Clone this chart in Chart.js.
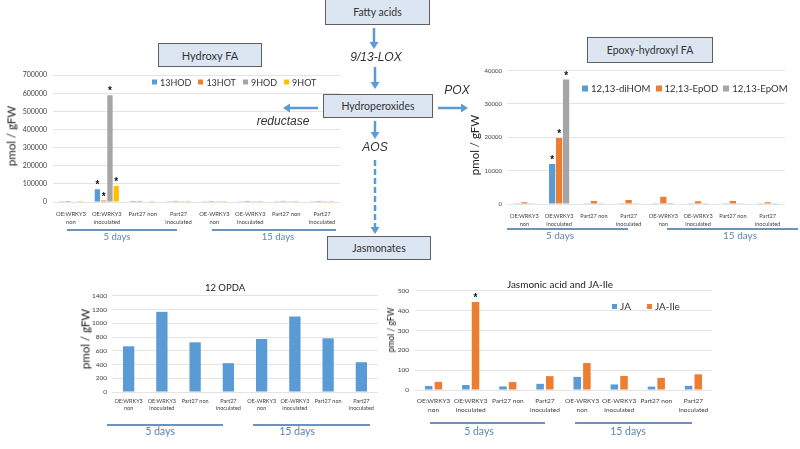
<!DOCTYPE html>
<html><head><meta charset="utf-8">
<script src="https://cdn.jsdelivr.net/npm/chart.js@4.4.1/dist/chart.umd.min.js"></script>
<style>
html,body{margin:0;padding:0;background:#fff;}
#root{position:relative;width:800px;height:449px;overflow:hidden;font-family:Lato,"Liberation Sans",sans-serif;}
canvas{position:absolute;}
.box{position:absolute;background:#dce6f2;border:1px solid #5f5f5f;box-sizing:border-box;display:flex;align-items:center;justify-content:center;color:#333;z-index:3;}
.it{position:absolute;font-family:"Liberation Sans",Arial,sans-serif;font-style:italic;font-size:12px;color:#333;transform:translate(-50%,-50%);white-space:nowrap;z-index:3;}
.yt{position:absolute;transform:translate(-50%,-50%) rotate(-90deg);white-space:nowrap;color:#222;}
.ct{position:absolute;transform:translate(-50%,-50%);white-space:nowrap;color:#222;}
.days{position:absolute;transform:translate(-50%,-50%);color:#5b86b3;white-space:nowrap;}
.dl{position:absolute;height:1.5px;background:#6b93bd;}
.lg{position:absolute;display:flex;align-items:center;white-space:nowrap;color:#333;transform:translateY(-50%);}
.lg i{display:inline-block;margin-right:3px;}
.lg span{display:inline-block;}
svg{position:absolute;left:0;top:0;z-index:2;}
</style>
</head>
<body>
<div id="root">
<canvas id="cA"></canvas>
<canvas id="cB"></canvas>
<canvas id="cC"></canvas>
<canvas id="cD"></canvas>
</div>
<script>
// ---------- data ----------
const categories = [["OE:WRKY3","non"],["OE:WRKY3","inoculated"],"Part27 non",["Part27","inoculated"],["OE-WRKY3","non"],["OE-WRKY3","inoculated"],"Part27 non",["Part27","inoculated"]];

const hydroxyNames = ["13HOD","13HOT","9HOD","9HOT"];
const hod13 = [1500, 70000, 500, 1000, 4000, 2000, 1000, 1500];
const hot13 = [300, 8000, 300, 300, 500, 500, 300, 300];
const hod9  = [2500, 590000, 2500, 3500, 3500, 3500, 800, 2000];
const hot9  = [500, 88000, 500, 500, 500, 500, 500, 500];
const hydroxyStars = [[0,1],[1,1],[2,1],[3,1]];

const epoxyNames = ["12,13-diHOM","12,13-EpOD","12,13-EpOM"];
const diHOM = [50, 12000, 200, 50, 250, 50, 50, 50];
const epOD  = [500, 19800, 900, 1200, 2200, 800, 900, 500];
const epOM  = [50, 37300, 50, 50, 300, 50, 50, 50];
const epoxyStars = [[0,1],[1,1],[2,1]];

const opda = [666, 1168, 724, 420, 772, 1100, 782, 434];

const jaNames = ["JA","JA-Ile"];
const ja    = [20, 25, 18, 31, 66, 28, 17, 21];
const jaIle = [41, 444, 40, 70, 136, 71, 61, 79];
const jaStars = [[1,1]];

const periodLabels = ["5 days","15 days"];

// ---------- colours ----------
const BLUE='#5b9bd5', ORANGE='#ed7d31', GRAY='#a5a5a5', GOLD='#ffc000';

const starPlugin = {
  id:'stars',
  afterDatasetsDraw(chart, args, opts){
    const ctx = chart.ctx;
    ctx.save();
    ctx.fillStyle = '#111';
    ctx.font = 'bold ' + (opts.size||10) + 'px "Liberation Sans"';
    ctx.textAlign = 'center';
    ctx.textBaseline = 'alphabetic';
    (opts.marks||[]).forEach(([d,i])=>{
      const el = chart.getDatasetMeta(d).data[i];
      ctx.fillText('*', el.x, el.y + opts.dy);
    });
    ctx.restore();
  }
};

function barChart(id, box, cfg){
  const padT=8, padR=8;
  const c=document.getElementById(id);
  const w=box.r-box.l+cfg.yW+padR, h=box.b-box.t+padT+cfg.xH;
  c.width=w; c.height=h;
  c.style.left=(box.l-cfg.yW)+'px'; c.style.top=(box.t-padT)+'px';
  c.style.width=w+'px'; c.style.height=h+'px';
  return new Chart(c,{
    type:'bar',
    data:{labels:categories,datasets:cfg.datasets},
    options:{
      responsive:false,animation:false,devicePixelRatio:1,
      layout:{padding:{top:padT,right:padR,left:0,bottom:0}},
      plugins:{legend:{display:false},tooltip:{enabled:false},stars:{marks:cfg.stars||[],dy:cfg.starDy,size:cfg.starSize||10}},
      scales:{
        x:{grid:{display:false,drawTicks:false},border:{display:false},
           ticks:{font:cfg.xFont,color:'#404040',padding:cfg.xPad,maxRotation:0,minRotation:0,autoSkip:false},
           afterFit(s){s.height=cfg.xH;}},
        y:{min:0,max:cfg.max,grid:{color:'#e4e4e4',drawTicks:false},border:{display:false},
           ticks:{stepSize:cfg.step,font:cfg.yFont,color:'#404040',padding:cfg.yPad,callback:v=>String(v)},
           afterFit(s){s.width=cfg.yW;}}
      }
    },
    plugins:[starPlugin]
  });
}
function ds(label,data,color,bp,cp){return {label,data,backgroundColor:color,borderWidth:0,barPercentage:bp,categoryPercentage:cp};}

Chart.defaults.font.family='Lato, "Liberation Sans", sans-serif';

barChart('cA',{l:53,t:73,r:340,b:202},{
  yW:53,xH:30,max:700000,step:100000,
  xFont:{size:5.8,lineHeight:1.4},xPad:8,yFont:{size:7},yPad:6,
  stars:hydroxyStars,starDy:-1,starSize:10,
  datasets:[ds(hydroxyNames[0],hod13,BLUE,0.85,0.7),ds(hydroxyNames[1],hot13,ORANGE,0.85,0.7),ds(hydroxyNames[2],hod9,GRAY,0.85,0.7),ds(hydroxyNames[3],hot9,GOLD,0.85,0.7)]
});
barChart('cB',{l:507,t:70,r:785,b:204},{
  yW:37,xH:30,max:40000,step:10000,
  xFont:{size:5.6,lineHeight:1.4},xPad:8,yFont:{size:6},yPad:5,
  stars:epoxyStars,starDy:-1,starSize:10,
  datasets:[ds(epoxyNames[0],diHOM,BLUE,0.9,0.6),ds(epoxyNames[1],epOD,ORANGE,0.9,0.6),ds(epoxyNames[2],epOM,GRAY,0.9,0.6)]
});
barChart('cC',{l:112,t:295,r:378,b:392},{
  yW:22,xH:28,max:1400,step:200,
  xFont:{size:5.5,lineHeight:1.25},xPad:6,yFont:{size:6.5},yPad:5,
  datasets:[ds('12 OPDA',opda,BLUE,0.34,1)]
});
barChart('cD',{l:415,t:289,r:712,b:390},{
  yW:22,xH:30,max:500,step:50,
  xFont:{size:6.5,lineHeight:1.35},xPad:7,yFont:{size:6.5},yPad:6,
  stars:jaStars,starDy:-1,starSize:10,
  datasets:[ds(jaNames[0],ja,BLUE,0.78,0.52),ds(jaNames[1],jaIle,ORANGE,0.78,0.52)]
});

// ---------- html text / decorations ----------
const root=document.getElementById('root');
function el(cls,txt,css){const d=document.createElement('div');d.className=cls;if(txt!==null)d.textContent=txt;Object.assign(d.style,css);root.appendChild(d);return d;}

// legends
function legend(x,y,items,size,font,gap){
  const d=el('lg',null,{left:x+'px',top:y+'px',fontSize:font+'px'});
  items.forEach(([color,label],k)=>{
    const i=document.createElement('i');
    Object.assign(i.style,{width:size+'px',height:size+'px',background:color,marginLeft:(k?gap:0)+'px'});
    const s=document.createElement('span');s.textContent=label;
    d.appendChild(i);d.appendChild(s);
  });
}
legend(152,82,[[BLUE,hydroxyNames[0]],[ORANGE,hydroxyNames[1]],[GRAY,hydroxyNames[2]],[GOLD,hydroxyNames[3]]],5,9,7);
legend(582,88,[[BLUE,epoxyNames[0]],[ORANGE,epoxyNames[1]],[GRAY,epoxyNames[2]]],6,9.6,5);
legend(612,306,[[BLUE,jaNames[0]],[ORANGE,jaNames[1]]],5,10,16);

// y titles
el('yt','pmol / gFW',{left:'11px',top:'136px',fontSize:'11.5px'});
el('yt','pmol / gFW',{left:'474px',top:'145px',fontSize:'11.5px'});
el('yt','pmol / gFW',{left:'85px',top:'339px',fontSize:'11.5px'});
el('yt','pmol / gFW',{left:'391px',top:'330px',fontSize:'8.5px'});

// chart titles
el('ct','12 OPDA',{left:'225px',top:'287px',fontSize:'9.5px'});
el('ct','Jasmonic acid and JA-Ile',{left:'560px',top:'284px',fontSize:'10px'});

// period lines
function period(x1,x2,ly,tx,ty,label,font){
  el('dl',null,{left:x1+'px',top:ly+'px',width:(x2-x1)+'px'});
  el('days',label,{left:tx+'px',top:ty+'px',fontSize:font+'px'});
}
period(67,177,229,117,236,periodLabels[0],9.5);
period(212,336,229,278,236,periodLabels[1],9.5);
period(507,628,228,560,235,periodLabels[0],10);
period(667,798,228,740,235,periodLabels[1],10);
period(107,223,424,160,431,periodLabels[0],10.5);
period(253,370,424,297,431,periodLabels[1],10.5);
period(430,545,422,479,431,periodLabels[0],10.5);
period(575,692,422,628,431,periodLabels[1],10.5);

// boxes
function box(x1,y1,x2,y2,label,font){return el('box',label,{left:x1+'px',top:y1+'px',width:(x2-x1)+'px',height:(y2-y1)+'px',fontSize:font+'px'});}
box(158,43,262,67,'Hydroxy FA',11);
box(587,37,713,63,'Epoxy-hydroxyl FA',10.5);
box(325,-1,430,25,'Fatty acids',10.5);
box(323,94,433,118,'Hydroperoxides',10.5);
box(327,236,431,260,'Jasmonates',10.5);

// italic enzyme labels
el('it','9/13-LOX',{left:'376px',top:'57px'});
el('it','reductase',{left:'283px',top:'121px'});
el('it','POX',{left:'457px',top:'90px'});
el('it','AOS',{left:'375px',top:'147px'});

// arrows
const NS='http://www.w3.org/2000/svg';
const svg=document.createElementNS(NS,'svg');
svg.setAttribute('width','800');svg.setAttribute('height','449');
root.appendChild(svg);
const AC='#5b9bd5';
function arrow(x1,y1,x2,y2,dash){
  const dx=x2-x1,dy=y2-y1,L=Math.hypot(dx,dy),ux=dx/L,uy=dy/L;
  const hl=7,hw=4.5;
  const bx=x2-ux*hl,by=y2-uy*hl;
  const ln=document.createElementNS(NS,'line');
  ln.setAttribute('x1',x1);ln.setAttribute('y1',y1);ln.setAttribute('x2',bx);ln.setAttribute('y2',by);
  ln.setAttribute('stroke',AC);ln.setAttribute('stroke-width','2.5');
  if(dash)ln.setAttribute('stroke-dasharray','6 3');
  svg.appendChild(ln);
  const p=document.createElementNS(NS,'polygon');
  p.setAttribute('points',`${x2},${y2} ${bx-uy*hw},${by+ux*hw} ${bx+uy*hw},${by-ux*hw}`);
  p.setAttribute('fill',AC);
  svg.appendChild(p);
}
arrow(374,28,374,49);
arrow(375,67,375,89);
arrow(318,108,283,108);
arrow(438,108,468,108);
arrow(375,121,375,139);
arrow(375,160,375,234,true);
</script>
</body></html>
